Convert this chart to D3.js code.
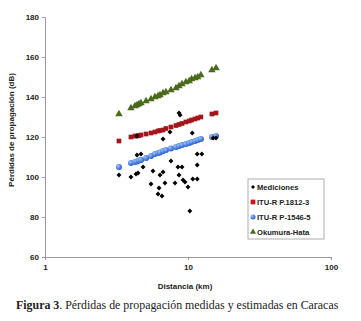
<!DOCTYPE html>
<html>
<head>
<meta charset="utf-8">
<script src="https://cdn.jsdelivr.net/npm/d3@7"></script>
<style>
  html, body { margin: 0; padding: 0; background: #fff; }
  svg { display: block; }
  .axis text { font-family: "Liberation Sans", Arial, sans-serif; font-size: 8px; font-weight: bold; fill: #222; }
  .axis path, .axis line { stroke: #9a9a9a; }
  .titulo-eje { font-family: "Liberation Sans", Arial, sans-serif; font-size: 8px; font-weight: bold; fill: #222; }
  .leyenda text { font-family: "Liberation Sans", Arial, sans-serif; font-size: 7.6px; font-weight: bold; fill: #222; }
  .pie { font-family: "Liberation Serif", "Times New Roman", serif; font-size: 11.9px; fill: #222; }
</style>
</head>
<body>
<div id="chart"></div>
<script>
const medDistancia = [3.29, 3.99, 4.33, 4.47, 4.40, 4.40, 4.69, 4.85, 5.51, 5.69, 6.17, 6.58,
  6.27, 6.37, 6.69, 6.69, 6.90, 7.48, 7.60, 8.11, 8.51, 9.08, 8.65, 8.65, 8.80, 9.23, 9.53,
  10.0, 10.3, 10.7, 10.8, 11.6, 11.6, 11.6, 12.5, 15.0, 15.7];
const medPerdida = [101, 100, 101.5, 102, 120.5, 111, 111.5, 105, 96.5, 103, 91.5, 90.5,
  94.5, 101, 102.5, 119, 97, 122.5, 108, 97, 105, 105, 101, 132, 131, 98.5, 97.5,
  95, 83, 122, 99, 99, 106, 111.5, 111.5, 119.5, 119.5];

// Predicciones de los modelos en los puntos de medida
const modDistancia = [3.29, 3.99, 4.26, 4.40, 4.54, 4.69, 5.09, 5.51, 5.87, 6.17, 6.37, 6.69,
  7.01, 7.60, 8.24, 8.65, 9.08, 9.67, 10.2, 10.6, 11.2, 11.7, 12.3, 14.7, 15.7];
const p1812 = [118, 120, 120.5, 120.5, 120.75, 121, 121.5, 122, 122.5, 123, 123.25, 123.5,
  124.25, 125, 125.75, 126.25, 126.75, 127.5, 128, 128.5, 129, 129.5, 130, 131.5, 132];
const p1546 = [105, 107, 107.5, 107.75, 108.25, 108.5, 109.5, 110.5, 111.5, 112, 112.25, 113,
  113.5, 114.25, 115, 115.5, 116, 116.5, 117, 117.5, 118, 118.5, 119, 120, 120.5];
const hata = [131.5, 134.5, 135.5, 136, 136.5, 137, 138, 139, 140, 140.5, 141, 142,
  142.5, 143.5, 144.5, 145.5, 146.5, 147.5, 148, 149, 149.5, 150, 151, 153.5, 154.5];

const yTicks = [60, 80, 100, 120, 140, 160, 180];
const xTicks = [1, 10, 100];
const leyenda = ['Mediciones', 'ITU-R P.1812-3', 'ITU-R P-1546-5', 'Okumura-Hata'];

const width = 361;
const height = 321;
const margin = { top: 17, right: 30, bottom: 64, left: 45 };

const svg = d3.select('#chart').append('svg').attr('width', width).attr('height', height);

const defs = svg.append('defs');
const gradAzul = defs.append('radialGradient').attr('id', 'gAzul').attr('cx', '35%').attr('cy', '35%').attr('r', '70%');
gradAzul.append('stop').attr('offset', '0%').attr('stop-color', '#9cc3ff');
gradAzul.append('stop').attr('offset', '100%').attr('stop-color', '#1f56c4');

const x = d3.scaleLog().domain([1, 100]).range([margin.left, width - margin.right]);
const y = d3.scaleLinear().domain([60, 180]).range([height - margin.bottom, margin.top]);

svg.append('g')
  .attr('class', 'axis')
  .attr('transform', `translate(0,${height - margin.bottom})`)
  .call(d3.axisBottom(x).tickValues(xTicks).tickFormat(d3.format('d')).tickSizeOuter(0).tickSize(3).tickPadding(4));

svg.append('g')
  .attr('class', 'axis')
  .attr('transform', `translate(${margin.left},0)`)
  .call(d3.axisLeft(y).tickValues(yTicks).tickSizeOuter(0).tickSize(3).tickPadding(3));

svg.append('text')
  .attr('class', 'titulo-eje')
  .attr('transform', `translate(14,130) rotate(-90)`)
  .attr('text-anchor', 'middle')
  .text('Pérdidas de propagación (dB)');

svg.append('text')
  .attr('class', 'titulo-eje')
  .attr('x', 185)
  .attr('y', 289)
  .attr('text-anchor', 'middle')
  .text('Distancia (km)');

const modelos = modDistancia.map((d, i) => ({ d, p1812: p1812[i], p1546: p1546[i], hata: hata[i] }));
const mediciones = medDistancia.map((d, i) => ({ d, v: medPerdida[i] }));

const tri = d3.symbol().type(d3.symbolTriangle).size(24);
const cuad = d3.symbol().type(d3.symbolSquare).size(22);
// rombo de Excel: cuadrado girado 45°
const rombo = d3.symbol().type(d3.symbolSquare).size(12);

svg.append('g').selectAll('path')
  .data(modelos)
  .join('path')
  .attr('d', tri)
  .attr('transform', (d) => `translate(${x(d.d)},${y(d.hata)})`)
  .attr('fill', '#4a6a1c');

svg.append('g').selectAll('path')
  .data(modelos)
  .join('path')
  .attr('d', cuad)
  .attr('transform', (d) => `translate(${x(d.d)},${y(d.p1812)})`)
  .attr('fill', '#a3161c');

svg.append('g').selectAll('circle')
  .data(modelos)
  .join('circle')
  .attr('cx', (d) => x(d.d))
  .attr('cy', (d) => y(d.p1546))
  .attr('r', 3)
  .attr('fill', 'url(#gAzul)');

svg.append('g').selectAll('path')
  .data(mediciones)
  .join('path')
  .attr('d', rombo)
  .attr('transform', (d) => `translate(${x(d.d)},${y(d.v)}) rotate(45)`)
  .attr('fill', '#000');

// leyenda
const ley = svg.append('g').attr('class', 'leyenda').attr('transform', 'translate(248,179)');
ley.append('rect').attr('width', 76).attr('height', 60).attr('fill', '#fff').attr('stroke', '#9a9a9a').attr('stroke-width', 0.8);
const items = ley.selectAll('g.item')
  .data(leyenda)
  .join('g')
  .attr('class', 'item')
  .attr('transform', (_, i) => `translate(5,${8 + i * 15})`);
items.append('text').attr('x', 4).attr('dy', '0.35em').text((d) => d);
items.filter((_, i) => i === 0).append('path').attr('d', d3.symbol().type(d3.symbolSquare).size(8)).attr('transform', 'rotate(45)').attr('fill', '#000');
items.filter((_, i) => i === 1).append('path').attr('d', d3.symbol().type(d3.symbolSquare).size(22)).attr('fill', '#c8161c');
items.filter((_, i) => i === 2).append('circle').attr('r', 2.5).attr('fill', 'url(#gAzul)');
items.filter((_, i) => i === 3).append('path').attr('d', d3.symbol().type(d3.symbolTriangle).size(16)).attr('fill', '#4a6a1c');

// pie de figura
const pie = svg.append('text').attr('class', 'pie').attr('x', 16).attr('y', 309);
pie.append('tspan').attr('font-weight', 'bold').text('Figura 3');
pie.append('tspan').text('. Pérdidas de propagación medidas y estimadas en Caracas');
</script>
</body>
</html>
